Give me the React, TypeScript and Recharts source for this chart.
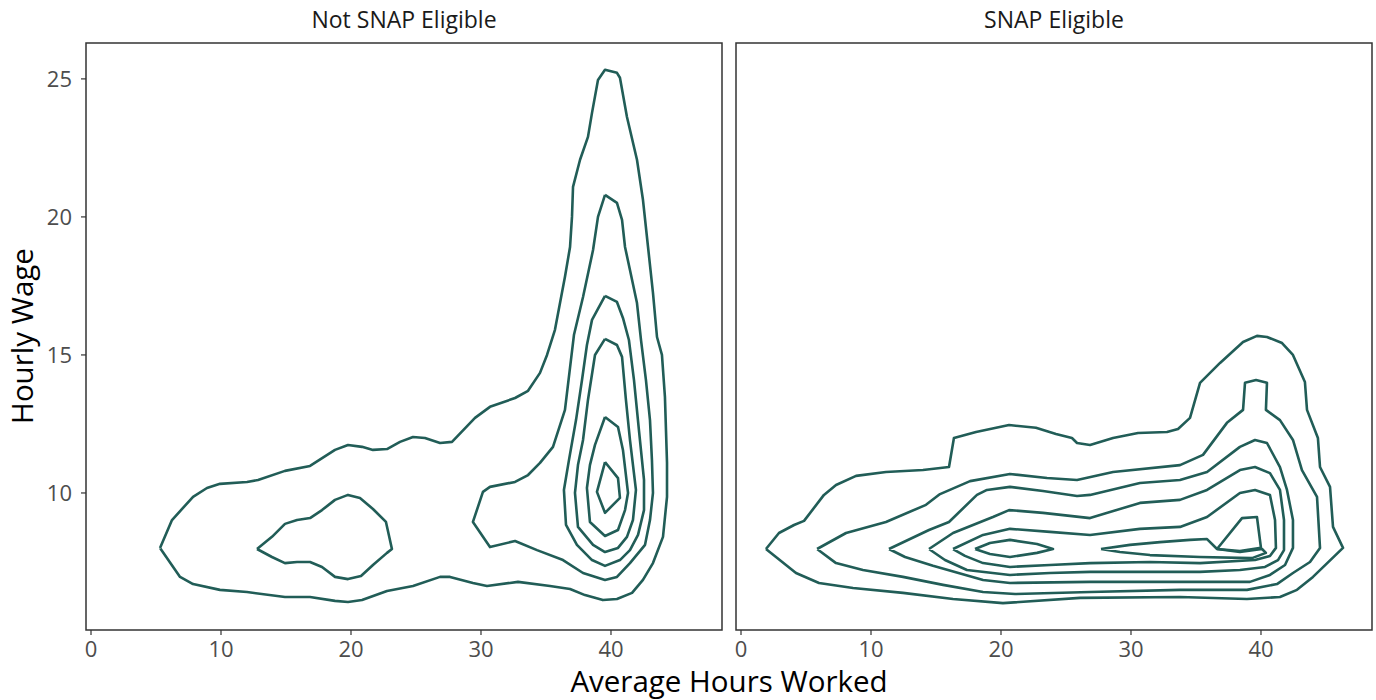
import React from 'react';
import { LineChart, Line, XAxis, YAxis, ReferenceArea } from 'recharts';

// contour rings: [hours, wage]
const notEligibleOuter = [[5.31,8.01],[6.23,9.02],[7.85,9.86],[8.92,10.18],[9.92,10.33],[12.0,10.4],[12.85,10.47],[14.92,10.8],[16.85,10.98],[18.77,11.56],[19.77,11.74],[20.85,11.67],[21.69,11.56],[22.77,11.59],[23.77,11.85],[24.77,12.03],[25.69,11.99],[26.85,11.81],[27.77,11.85],[29.54,12.72],[30.69,13.12],[32.62,13.44],[33.62,13.7],[34.54,14.35],[35.08,15.0],[35.69,15.91],[36.46,17.83],[36.85,18.91],[37.0,20.0],[37.08,21.09],[37.62,22.07],[38.23,22.9],[38.54,23.77],[39.0,24.96],[39.54,25.33],[40.46,25.22],[40.69,25.04],[41.23,23.62],[42.0,22.07],[42.46,20.62],[42.85,18.91],[43.23,17.25],[43.54,15.65],[43.92,15.0],[44.15,13.48],[44.31,11.09],[44.31,9.86],[44.0,8.41],[43.23,7.46],[42.46,6.85],[41.62,6.38],[40.46,6.16],[39.38,6.12],[38.0,6.3],[36.85,6.52],[35.31,6.63],[32.85,6.78],[30.46,6.63],[29.38,6.74],[27.62,6.96],[26.85,6.96],[24.77,6.63],[22.77,6.45],[20.85,6.12],[19.77,6.05],[18.77,6.09],[16.85,6.23],[14.92,6.23],[12.0,6.41],[9.92,6.49],[7.85,6.7],[6.85,6.96]];
const notEligibleLeftLoop = [[12.77,7.97],[13.92,8.41],[14.92,8.88],[15.85,9.02],[16.85,9.09],[17.77,9.38],[18.77,9.75],[19.77,9.93],[20.69,9.82],[21.69,9.42],[22.69,8.95],[23.15,7.97],[22.77,7.83],[21.69,7.39],[20.77,6.99],[19.77,6.88],[18.77,6.96],[17.77,7.32],[16.85,7.5],[15.85,7.5],[14.92,7.46],[13.92,7.68]];
const notEligibleRing2 = [[39.54,20.8],[40.46,20.51],[40.85,19.89],[41.08,18.91],[41.46,18.08],[42.0,16.88],[42.31,15.54],[42.69,14.09],[43.0,12.64],[43.15,11.2],[43.23,10.0],[43.0,9.02],[42.62,8.12],[41.46,7.46],[40.46,6.96],[39.54,6.85],[37.85,7.1],[36.31,7.57],[34.31,7.93],[32.62,8.26],[30.69,8.04],[29.38,8.95],[30.15,10.04],[30.69,10.22],[32.62,10.4],[33.62,10.65],[34.54,11.09],[35.54,11.67],[36.46,13.01],[37.15,15.72],[37.85,17.1],[38.62,18.8],[39.0,20.0]];
const notEligibleRing3 = [[39.54,17.14],[40.46,16.92],[40.92,16.34],[41.38,15.54],[41.77,14.09],[42.15,12.28],[42.54,10.47],[42.54,9.38],[42.08,8.48],[41.46,7.93],[40.69,7.57],[39.54,7.36],[38.54,7.57],[37.38,8.12],[36.54,8.84],[36.38,10.11],[36.77,11.2],[37.31,12.64],[37.77,14.09],[38.15,15.36],[38.54,16.27]];
const notEligibleRing4 = [[39.54,15.58],[40.46,15.36],[40.85,14.93],[41.15,13.37],[41.46,11.92],[41.92,10.11],[41.69,9.02],[41.23,8.41],[40.54,8.01],[39.54,7.86],[38.62,8.12],[37.46,8.77],[37.23,10.0],[37.46,11.01],[37.85,11.92],[38.23,13.37],[38.77,15.0]];
const notEligibleRing5 = [[39.54,12.75],[40.54,12.39],[40.92,11.56],[41.31,10.0],[41.08,9.38],[40.54,8.66],[39.54,8.44],[38.38,8.95],[38.15,10.18],[38.38,11.01],[38.77,11.74]];
const notEligibleRing6 = [[39.54,11.12],[40.54,10.54],[40.69,9.82],[39.54,9.28],[38.92,10.04]];

const eligibleOuter = [[1.92,7.97],[2.92,8.55],[4.08,8.84],[4.85,8.99],[6.38,9.93],[7.31,10.29],[8.85,10.62],[11.15,10.76],[14.0,10.83],[16.0,10.94],[16.38,11.99],[18.08,12.21],[20.62,12.46],[22.69,12.36],[24.23,12.14],[25.46,11.99],[25.85,11.81],[26.85,11.74],[28.62,11.99],[30.54,12.17],[32.77,12.21],[33.62,12.32],[34.54,12.72],[35.31,13.99],[36.85,14.71],[38.62,15.47],[39.69,15.69],[40.46,15.65],[41.62,15.43],[42.46,15.0],[43.38,14.02],[43.54,13.01],[44.38,11.99],[44.54,10.94],[45.31,10.22],[45.54,8.77],[46.31,8.01],[44.0,6.96],[42.77,6.49],[41.46,6.23],[38.92,6.16],[33.77,6.23],[26.08,6.2],[20.15,6.01],[16.31,6.16],[12.46,6.38],[8.62,6.56],[6.0,6.74],[4.23,7.1]];
const eligibleRing2 = [[5.85,7.97],[8.08,8.55],[11.15,8.95],[14.23,9.57],[15.31,9.96],[17.62,10.43],[20.69,10.69],[23.54,10.54],[25.85,10.47],[28.62,10.76],[33.77,11.01],[35.54,11.38],[37.38,12.54],[38.62,13.01],[38.77,13.99],[39.62,14.09],[40.46,13.99],[40.38,13.01],[41.46,12.64],[42.46,11.92],[43.15,10.83],[44.31,9.86],[44.54,8.01],[43.77,7.5],[42.46,7.1],[41.23,6.7],[38.92,6.49],[33.77,6.49],[26.85,6.41],[21.08,6.34],[18.62,6.41],[15.54,6.67],[12.46,6.96],[9.38,7.21],[7.31,7.46]];
const eligibleRing3 = [[11.38,7.97],[14.46,8.66],[16.0,8.95],[18.15,9.93],[18.92,10.11],[20.69,10.22],[23.23,10.07],[25.85,9.89],[26.85,9.93],[30.69,10.36],[33.77,10.47],[35.85,10.76],[38.38,11.67],[39.54,11.92],[40.46,11.81],[41.46,10.94],[42.0,10.11],[42.46,9.02],[42.46,8.01],[41.85,7.39],[40.69,7.03],[39.15,6.78],[35.31,6.78],[26.85,6.78],[20.69,6.74],[18.62,6.85],[14.77,7.36],[12.62,7.68]];
const eligibleRing4 = [[14.46,7.97],[16.31,8.55],[19.38,9.13],[20.62,9.38],[23.23,9.28],[26.85,9.09],[30.69,9.64],[33.77,9.75],[35.85,10.11],[38.38,10.83],[39.54,10.94],[40.69,10.72],[41.46,10.11],[41.77,9.02],[41.77,7.93],[41.31,7.57],[40.31,7.32],[38.38,7.21],[35.31,7.14],[26.85,7.14],[23.77,7.1],[20.69,7.03],[17.38,7.21],[15.69,7.57]];
const eligibleRing5 = [[16.31,7.97],[18.62,8.48],[20.69,8.7],[23.77,8.59],[26.85,8.48],[30.69,8.7],[33.77,8.77],[35.85,9.13],[38.38,10.0],[39.54,10.11],[40.69,9.93],[41.08,9.02],[41.15,8.01],[40.69,7.72],[39.54,7.57],[35.31,7.46],[31.46,7.5],[26.85,7.46],[23.77,7.39],[20.69,7.32],[18.62,7.46],[17.23,7.72]];
const eligibleRing6Left = [[18.0,7.97],[19.15,8.19],[20.69,8.3],[22.77,8.15],[24.0,7.97],[22.77,7.83],[20.69,7.68],[19.15,7.79]];
const eligibleRing6Right = [[27.69,7.97],[29.92,8.12],[32.23,8.22],[34.54,8.3],[35.85,8.33],[36.62,7.97],[38.38,7.86],[40.08,7.97],[40.38,7.83],[39.31,7.64],[35.31,7.68],[31.46,7.75],[29.15,7.86]];
const eligibleRing7 = [[36.62,7.97],[38.54,9.09],[39.69,9.13],[40.0,8.01],[38.38,7.9]];

const panelTitles = ['Not SNAP Eligible', 'SNAP Eligible'];
const hourTicks = [0, 10, 20, 30, 40];
const wageTicks = [10, 15, 20, 25];

const X_DOMAIN: [number, number] = [-0.385, 48.54];
const Y_DOMAIN: [number, number] = [5.036, 26.3];
const LINE = '#215d57';
const FONT = '"Open Sans", sans-serif';

const ring = (pts: number[][]) => {
  const out = pts.map(([h, w]) => ({ h, w }));
  out.push({ h: pts[0][0], w: pts[0][1] });
  return out;
};

const leftRings = [notEligibleOuter, notEligibleLeftLoop, notEligibleRing2, notEligibleRing3, notEligibleRing4, notEligibleRing5, notEligibleRing6].map(ring);
const rightRings = [eligibleOuter, eligibleRing2, eligibleRing3, eligibleRing4, eligibleRing5, eligibleRing6Left, eligibleRing6Right, eligibleRing7].map(ring);

function Panel({ rings, showY, width, margin }: { rings: { h: number; w: number }[][]; showY: boolean; width: number; margin: any }) {
  return (
    <LineChart width={width} height={700} margin={margin}>
      <XAxis
        type="number"
        dataKey="h"
        domain={X_DOMAIN}
        ticks={hourTicks}
        allowDataOverflow
        height={40}
        axisLine={false}
        tickLine={{ stroke: '#333333', strokeWidth: 1.2 }}
        tickSize={5}
        tickMargin={6}
        tick={{ fill: '#4d4d4d', fontSize: 22, fontFamily: FONT }}
      />
      <YAxis
        type="number"
        dataKey="w"
        domain={Y_DOMAIN}
        ticks={wageTicks}
        allowDataOverflow
        hide={!showY}
        width={showY ? 86 : 0}
        axisLine={false}
        tickLine={{ stroke: '#333333', strokeWidth: 1.2 }}
        tickSize={5}
        tickMargin={9}
        tick={{ fill: '#4d4d4d', fontSize: 22, fontFamily: FONT }}
      />
      {rings.map((r, i) => (
        <Line
          key={i}
          data={r}
          dataKey="w"
          type="linear"
          stroke={LINE}
          strokeWidth={2.6}
          strokeLinejoin="round"
          dot={false}
          activeDot={false}
          isAnimationActive={false}
        />
      ))}
      <ReferenceArea x1={X_DOMAIN[0]} x2={X_DOMAIN[1]} y1={Y_DOMAIN[0]} y2={Y_DOMAIN[1]} fill="none" stroke="#333333" strokeWidth={1.5} ifOverflow="visible" />
    </LineChart>
  );
}

export default function App() {
  const titleStyle: React.CSSProperties = { position: 'absolute', top: 8, fontSize: 23, lineHeight: '23px', fontFamily: FONT, color: '#1a1a1a', transform: 'translateX(-50%)', whiteSpace: 'nowrap' };
  return (
    <div style={{ position: 'absolute', left: 0, top: 0, width: 1376, height: 700, background: '#fff', fontFamily: FONT }}>
      <div style={{ position: 'absolute', left: 0, top: 0 }}>
        <Panel rings={leftRings} showY width={730} margin={{ top: 43, right: 8, bottom: 30, left: 0 }} />
      </div>
      <div style={{ position: 'absolute', left: 730, top: 0 }}>
        <Panel rings={rightRings} showY={false} width={646} margin={{ top: 43, right: 4, bottom: 30, left: 6 }} />
      </div>
      <div style={{ ...titleStyle, left: 404 }}>{panelTitles[0]}</div>
      <div style={{ ...titleStyle, left: 1054 }}>{panelTitles[1]}</div>
      <div style={{ position: 'absolute', left: 22, top: 336, transform: 'translate(-50%, -50%) rotate(-90deg)', fontSize: 29.5, lineHeight: '30px', whiteSpace: 'nowrap', color: '#000' }}>Hourly Wage</div>
      <div style={{ position: 'absolute', left: 729, top: 666, transform: 'translateX(-50%)', fontSize: 29.5, lineHeight: '30px', whiteSpace: 'nowrap', color: '#000' }}>Average Hours Worked</div>
    </div>
  );
}
